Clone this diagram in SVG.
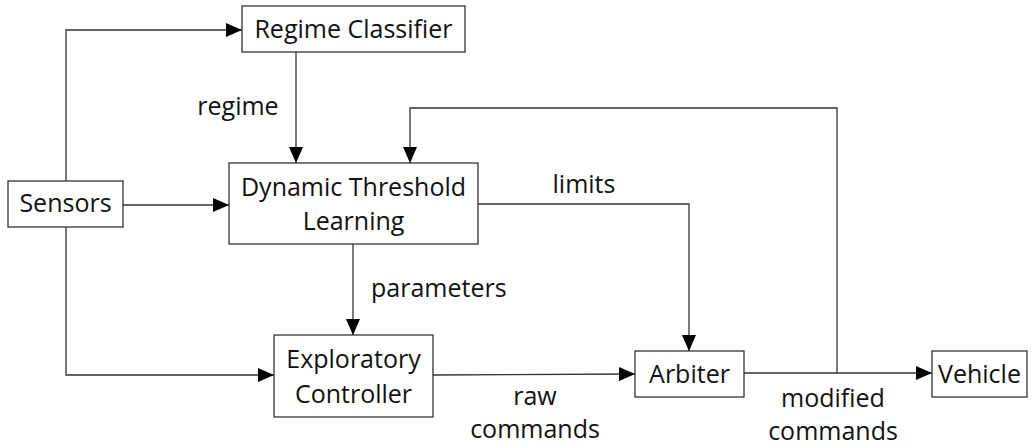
<svg xmlns="http://www.w3.org/2000/svg" width="1034" height="448" viewBox="0 0 1034 448">
  <style>
    .box { fill: #ffffff; stroke: #333333; stroke-width: 1.3; }
    .t { font-family: "Open Sans", "Liberation Sans", sans-serif; font-size: 25px; fill: #111111; text-anchor: middle; }
    .lbl { font-family: "Open Sans", "Liberation Sans", sans-serif; font-size: 25px; fill: #111111; }
    .c { fill: none; stroke: #333333; stroke-width: 1.3; marker-end: url(#arr); }
  </style>
  <defs>
    <marker id="arr" markerUnits="userSpaceOnUse" markerWidth="16" markerHeight="14" refX="16" refY="7" orient="auto">
      <path d="M0,0 L16,7 L0,14 z" fill="#000000"/>
    </marker>
  </defs>
  <rect width="1034" height="448" fill="#ffffff"/>

  <g id="connectors">
    <path class="c" d="M66,181 L66,30 L242,30"/>
    <path class="c" d="M123,205 L229,205"/>
    <path class="c" d="M66,227 L66,375 L274,375"/>
    <path class="c" d="M296,52 L296,163"/>
    <path class="c" d="M353,244 L353,335"/>
    <path class="c" d="M478,204 L689,204 L689,351"/>
    <path class="c" d="M433,375 L635,374"/>
    <path class="c" d="M744,373 L932,373"/>
    <path class="c" d="M837,373 L837,108 L410,108 L410,163"/>
  </g>

  <g id="labels">
    <text class="t" x="238" y="115">regime</text>
    <text class="t" x="584" y="193">limits</text>
    <text class="lbl" x="371" y="297">parameters</text>
    <text class="t" x="535" y="405">raw</text>
    <text class="t" x="535" y="438">commands</text>
    <text class="t" x="833" y="407">modified</text>
    <text class="t" x="833" y="440">commands</text>
  </g>

  <g id="node-regime-classifier">
    <rect class="box" x="242" y="6" width="223" height="46"/>
    <text class="t" x="353.5" y="37.5">Regime Classifier</text>
  </g>
  <g id="node-sensors">
    <rect class="box" x="8" y="181" width="115" height="46"/>
    <text class="t" x="65.5" y="211.5">Sensors</text>
  </g>
  <g id="node-dtl">
    <rect class="box" x="229" y="163" width="249" height="81"/>
    <text class="t" x="353.5" y="195.5">Dynamic Threshold</text>
    <text class="t" x="353.5" y="229.5">Learning</text>
  </g>
  <g id="node-exploratory">
    <rect class="box" x="274" y="335" width="159" height="82"/>
    <text class="t" x="353.5" y="367.5">Exploratory</text>
    <text class="t" x="353.5" y="402.5">Controller</text>
  </g>
  <g id="node-arbiter">
    <rect class="box" x="635" y="351" width="109" height="46"/>
    <text class="t" x="689.5" y="382.5">Arbiter</text>
  </g>
  <g id="node-vehicle">
    <rect class="box" x="932" y="351" width="95" height="46"/>
    <text class="t" x="979.5" y="382.5">Vehicle</text>
  </g>
</svg>
